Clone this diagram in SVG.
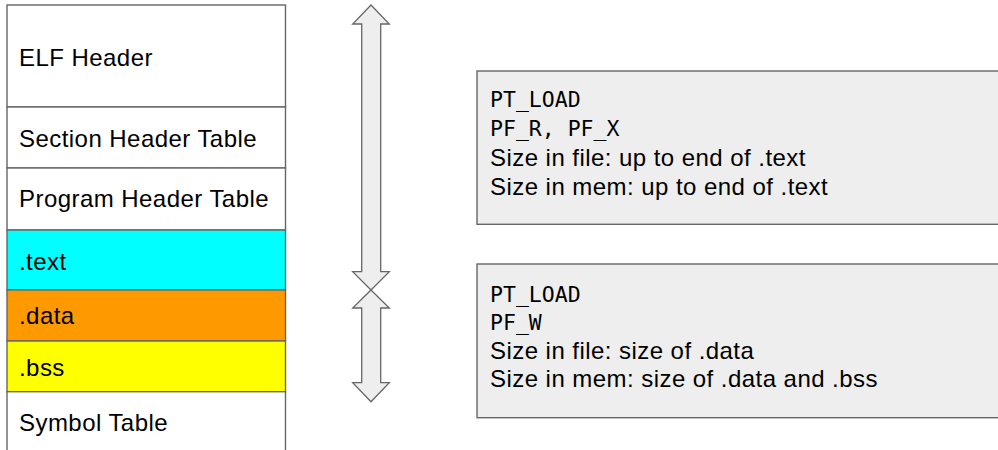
<svg xmlns="http://www.w3.org/2000/svg" width="998" height="450" viewBox="0 0 998 450">
  <style>
    .cell { stroke: #666666; stroke-width: 1.4; }
    .lbl { font-family: "Liberation Sans", Arial, sans-serif; font-size: 24px; letter-spacing: 0.45px; fill: #000000; }
    .mono { font-family: "DejaVu Sans Mono", "Liberation Mono", monospace; font-size: 21.5px; fill: #000000; }
    .note { fill: #eeeeee; stroke: #666666; stroke-width: 1.4; }
    .arrow { fill: #eeeeee; stroke: #666666; stroke-width: 1.3; stroke-linejoin: miter; }
  </style>

  <!-- ELF file layout column -->
  <g id="elf-header">
    <rect class="cell" x="7" y="5" width="278.5" height="102" fill="#ffffff"/>
    <text class="lbl" x="19" y="66">ELF Header</text>
  </g>
  <g id="section-header-table">
    <rect class="cell" x="7" y="107" width="278.5" height="61" fill="#ffffff"/>
    <text class="lbl" x="19" y="147.3">Section Header Table</text>
  </g>
  <g id="program-header-table">
    <rect class="cell" x="7" y="168" width="278.5" height="62" fill="#ffffff"/>
    <text class="lbl" x="19" y="207.3">Program Header Table</text>
  </g>
  <g id="text-section">
    <rect class="cell" x="7" y="230" width="278.5" height="60" fill="#00ffff"/>
    <text class="lbl" x="19" y="270">.text</text>
  </g>
  <g id="data-section">
    <rect class="cell" x="7" y="290" width="278.5" height="51" fill="#ff9900"/>
    <text class="lbl" x="19" y="324.3">.data</text>
  </g>
  <g id="bss-section">
    <rect class="cell" x="7" y="341" width="278.5" height="50.7" fill="#ffff00"/>
    <text class="lbl" x="19" y="375.7">.bss</text>
  </g>
  <g id="symbol-table">
    <rect class="cell" x="7" y="391.7" width="278.5" height="70" fill="#ffffff"/>
    <text class="lbl" x="19" y="430.7">Symbol Table</text>
  </g>

  <!-- Segment extent arrows -->
  <g id="connectors">
    <path id="segment1-span" class="arrow"
          d="M371 5 L389.3 24 L380.7 24 L380.7 271.7 L389.3 271.7 L371 290 L352.7 271.7 L361.7 271.7 L361.7 24 L352.7 24 Z"/>
    <path id="segment2-span" class="arrow"
          d="M371 290 L389.3 308 L380.7 308 L380.7 382.7 L389.3 382.7 L371 401.7 L352.7 382.7 L361.7 382.7 L361.7 308 L352.7 308 Z"/>
  </g>

  <!-- Program header descriptions -->
  <g id="segment1">
    <rect class="note" x="477" y="71" width="540" height="153.3"/>
    <text class="mono" x="490" y="107">PT_LOAD</text>
    <text class="mono" x="490" y="136">PF_R, PF_X</text>
    <text class="lbl" x="490" y="165.5">Size in file: up to end of .text</text>
    <text class="lbl" x="490" y="194.5">Size in mem: up to end of .text</text>
  </g>
  <g id="segment2">
    <rect class="note" x="477" y="264" width="540" height="153.7"/>
    <text class="mono" x="490" y="301.5">PT_LOAD</text>
    <text class="mono" x="490" y="330">PF_W</text>
    <text class="lbl" x="490" y="358.5">Size in file: size of .data</text>
    <text class="lbl" x="490" y="387">Size in mem: size of .data and .bss</text>
  </g>
</svg>
